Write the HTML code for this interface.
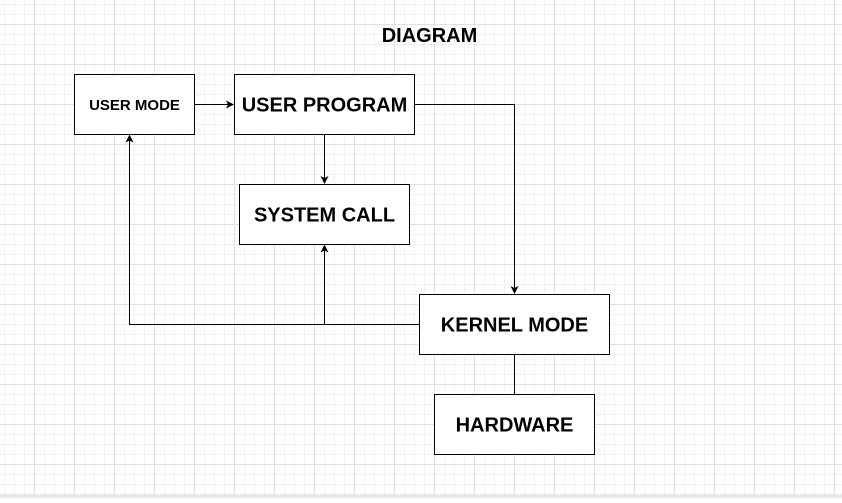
<!DOCTYPE html>
<html><head><style>
body{margin:0;width:842px;height:498px;overflow:hidden;background:#fff;font-family:"Liberation Sans",Arial,sans-serif}
</style></head><body>
<svg width="842" height="498" xmlns="http://www.w3.org/2000/svg">
<defs>
<pattern id="mn" width="10" height="10" patternUnits="userSpaceOnUse" x="4" y="4">
<path d="M0 0.5H10M0.5 0V10" stroke="#f1f1f1" stroke-width="1" fill="none"/>
</pattern>
<pattern id="mj" width="40" height="40" patternUnits="userSpaceOnUse" x="34" y="24">
<path d="M0 0.5H40M0.5 0V40" stroke="#e0e0e0" stroke-width="1" fill="none"/>
</pattern>
<marker id="a" markerWidth="8" markerHeight="8" refX="7" refY="4" orient="auto" markerUnits="userSpaceOnUse">
<path d="M0 0L8 4L0 8L2 4Z" fill="#000"/>
</marker>
</defs>
<rect width="842" height="498" fill="url(#mn)"/>
<rect width="842" height="498" fill="url(#mj)"/>
<rect y="494" width="842" height="4" fill="#e8e8e8"/>
<text x="429.5" y="42" text-anchor="middle" font-weight="bold" font-size="20">DIAGRAM</text>
<g fill="#fff" stroke="#000" stroke-width="1">
<rect x="74.5" y="74.5" width="120" height="60"/>
<rect x="234.5" y="74.5" width="180" height="60"/>
<rect x="239.5" y="184.5" width="170" height="60"/>
<rect x="419.5" y="294.5" width="190" height="60"/>
<rect x="434.5" y="394.5" width="160" height="60"/>
</g>
<g font-weight="bold" text-anchor="middle" fill="#000">
<text x="134.5" y="110" font-size="15">USER MODE</text>
<text x="324.5" y="111.5" font-size="20">USER PROGRAM</text>
<text x="324.5" y="221.5" font-size="20">SYSTEM CALL</text>
<text x="514.5" y="331.5" font-size="20">KERNEL MODE</text>
<text x="514.5" y="431.5" font-size="20">HARDWARE</text>
</g>
<g stroke="#000" stroke-width="1" fill="none">
<path d="M194.5 104.5H233" marker-end="url(#a)"/>
<path d="M324.5 134.5V183" marker-end="url(#a)"/>
<path d="M414.5 104.5H514.5V293" marker-end="url(#a)"/>
<path d="M419.5 324.5H129.5V135.5" marker-end="url(#a)"/>
<path d="M324.5 324.5V245.5" marker-end="url(#a)"/>
<path d="M514.5 354.5V394.5"/>
</g>
</svg>
</body></html>
